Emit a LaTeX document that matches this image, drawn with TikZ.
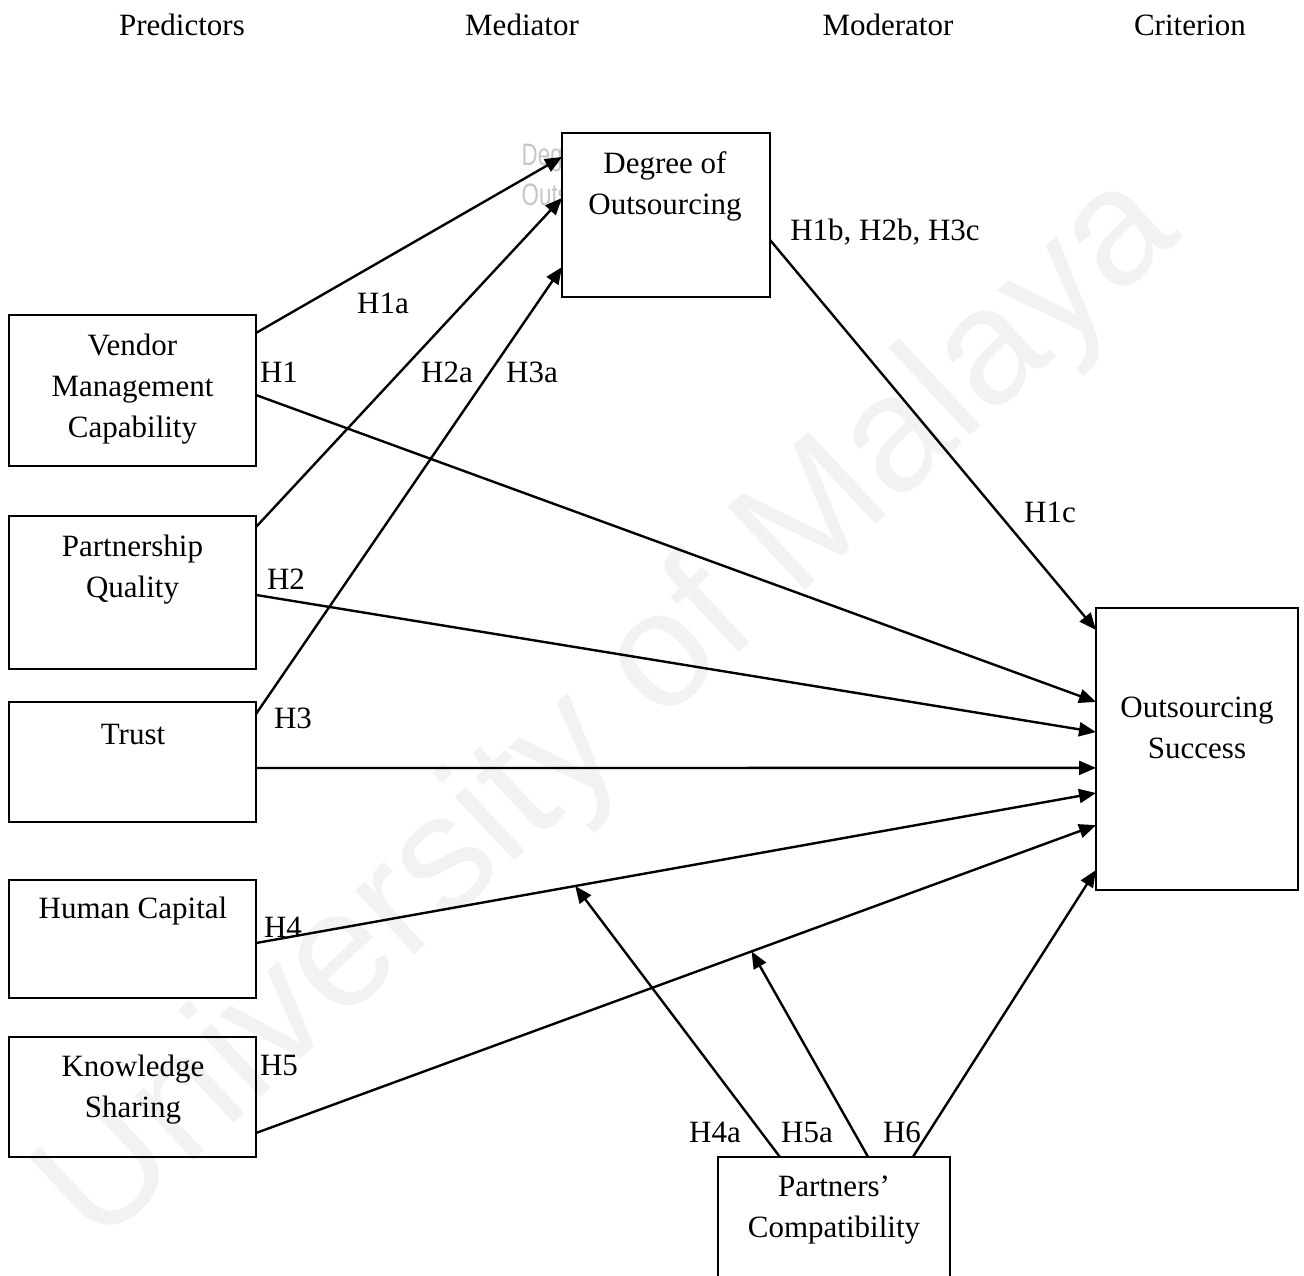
\documentclass[tikz,border=0pt]{standalone}
\usepackage{fontspec}
\setmainfont{Liberation Serif}
\newfontfamily\wmfont{Liberation Sans}
\usetikzlibrary{arrows.meta,calc}

\newcommand\diagsize{\fontsize{31}{41}\selectfont}

\tikzset{every picture/.style={line width=2pt}}
\tikzset{
  box/.style={draw, rectangle, inner sep=0pt, outer sep=0pt},
  txt/.style={align=center, inner sep=0pt, font=\diagsize},
  hyp/.style={inner sep=0pt, font=\diagsize},
  arr/.style={-{Triangle[length=17pt,width=14pt]}, line width=2.4pt},
  wmark/.style={inner sep=0pt, text=black!5, font=\wmfont\fontsize{165}{165}\selectfont, rotate=43},
  ghost/.style={inner sep=0pt, anchor=west, align=left, text=gray!45, xscale=0.72, font=\wmfont\fontsize{31}{40}\selectfont},
}

\begin{document}
\begin{tikzpicture}[x=1pt,y=1pt,yscale=-1,xscale=1]
\path[use as bounding box, clip] (0,0) rectangle (1304,1275);

% Watermark
\node[wmark] (wm) at (612,712) {University of Malaya};
% Ghost Text
\node[ghost] (ghost) at (521,177) {Degree of\\Outsourcing};

% Column heads
\node[txt] (head-pred) at (182,25) {Predictors};
\node[txt] (head-med) at (522,25) {Mediator};
\node[txt] (head-mod) at (888,25) {Moderator};
\node[txt] (head-crit) at (1190,25) {Criterion};

%Shape: Rectangle [Degree of Outsourcing]
\node[box, fill=white, minimum width=208pt, minimum height=164pt] (dego) at (666,215) {};
%Shape: Rectangle [Vendor Management Capability]
\node[box, minimum width=247pt, minimum height=151pt] (vmc) at (132.5,390.5) {};
%Shape: Rectangle [Partnership Quality]
\node[box, minimum width=247pt, minimum height=153pt] (pq) at (132.5,592.5) {};
%Shape: Rectangle [Trust]
\node[box, minimum width=247pt, minimum height=120pt] (tr) at (132.5,762) {};
%Shape: Rectangle [Human Capital]
\node[box, minimum width=247pt, minimum height=118pt] (hc) at (132.5,939) {};
%Shape: Rectangle [Knowledge Sharing]
\node[box, minimum width=247pt, minimum height=120pt] (ks) at (132.5,1097) {};
%Shape: Rectangle [Outsourcing Success]
\node[box, minimum width=202pt, minimum height=282pt] (os) at (1197,749) {};
%Shape: Rectangle [Partners' Compatibility]
\node[box, minimum width=232pt, minimum height=133pt] (pc) at (834,1223.5) {};

% Box texts
\node[txt] (dego-t) at (665,186) {Degree of\\Outsourcing};
\node[txt] (vmc-t) at (132.5,389) {Vendor\\Management\\Capability};
\node[txt] (pq-t) at (132.5,570) {Partnership\\Quality};
\node[txt] (tr-t) at (133,734) {Trust};
\node[txt] (hc-t) at (133,911) {Human Capital};
\node[txt] (ks-t) at (133,1090) {Knowledge\\Sharing};
\node[txt] (os-t) at (1197,728) {Outsourcing\\Success};
\node[txt] (pc-t) at (834,1210) {Partners'\\Compatibility};

%Straight Lines [to mediator]
\draw[arr] ($(vmc.north east)!0.119!(vmc.south east)$) -- ($(dego.north west)!0.146!(dego.south west)$);
\draw[arr] ($(pq.north east)!0.072!(pq.south east)$) -- ($(dego.north west)!0.396!(dego.south west)$);
\draw[arr] ($(tr.north east)!0.1!(tr.south east)$) -- ($(dego.north west)!0.817!(dego.south west)$);
%Straight Lines [to criterion]
\draw[arr] ($(dego.north east)!0.652!(dego.south east)$) -- ($(os.north west)!0.078!(os.south west)$);
\draw[arr] ($(vmc.north east)!0.53!(vmc.south east)$) -- ($(os.north west)!0.333!(os.south west)$);
\draw[arr] ($(pq.north east)!0.516!(pq.south east)$) -- ($(os.north west)!0.44!(os.south west)$);
\draw[arr] ($(tr.north east)!0.55!(tr.south east)$) -- ($(os.north west)!0.567!(os.south west)$);
\coordinate (hc-o) at ($(hc.north east)!0.534!(hc.south east)$);
\coordinate (os-h4) at ($(os.north west)!0.656!(os.south west)$);
\draw[arr] (hc-o) -- (os-h4);
\coordinate (ks-o) at ($(ks.north east)!0.8!(ks.south east)$);
\coordinate (os-h5) at ($(os.north west)!0.77!(os.south west)$);
\draw[arr] (ks-o) -- (os-h5);
%Straight Lines [moderator]
\coordinate (m4) at ($(hc-o)!0.38!(os-h4)$);
\coordinate (m5) at ($(ks-o)!0.59!(os-h5)$);
\draw[arr] ($(pc.north west)!0.267!(pc.north east)$) -- (m4);
\draw[arr] ($(pc.north west)!0.647!(pc.north east)$) -- (m5);
\draw[arr] ($(pc.north west)!0.84!(pc.north east)$) -- ($(os.north west)!0.929!(os.south west)$);

% Hypothesis labels
\node[hyp] (l-h1a) at (383,303) {H1a};
\node[hyp] (l-h1) at (279,372) {H1};
\node[hyp] (l-h2a) at (447,372) {H2a};
\node[hyp] (l-h3a) at (532,372) {H3a};
\node[hyp] (l-h1b) at (885,232) {H1b, H2b, H3c};
\node[hyp] (l-h1c) at (1050,512) {H1c};
\node[hyp] (l-h2) at (286,579) {H2};
\node[hyp] (l-h3) at (293,718) {H3};
\node[hyp] (l-h4) at (283,927) {H4};
\node[hyp] (l-h5) at (279,1065) {H5};
\node[hyp] (l-h4a) at (715,1132) {H4a};
\node[hyp] (l-h5a) at (807,1132) {H5a};
\node[hyp] (l-h6) at (902,1132) {H6};
\end{tikzpicture}
\end{document}
